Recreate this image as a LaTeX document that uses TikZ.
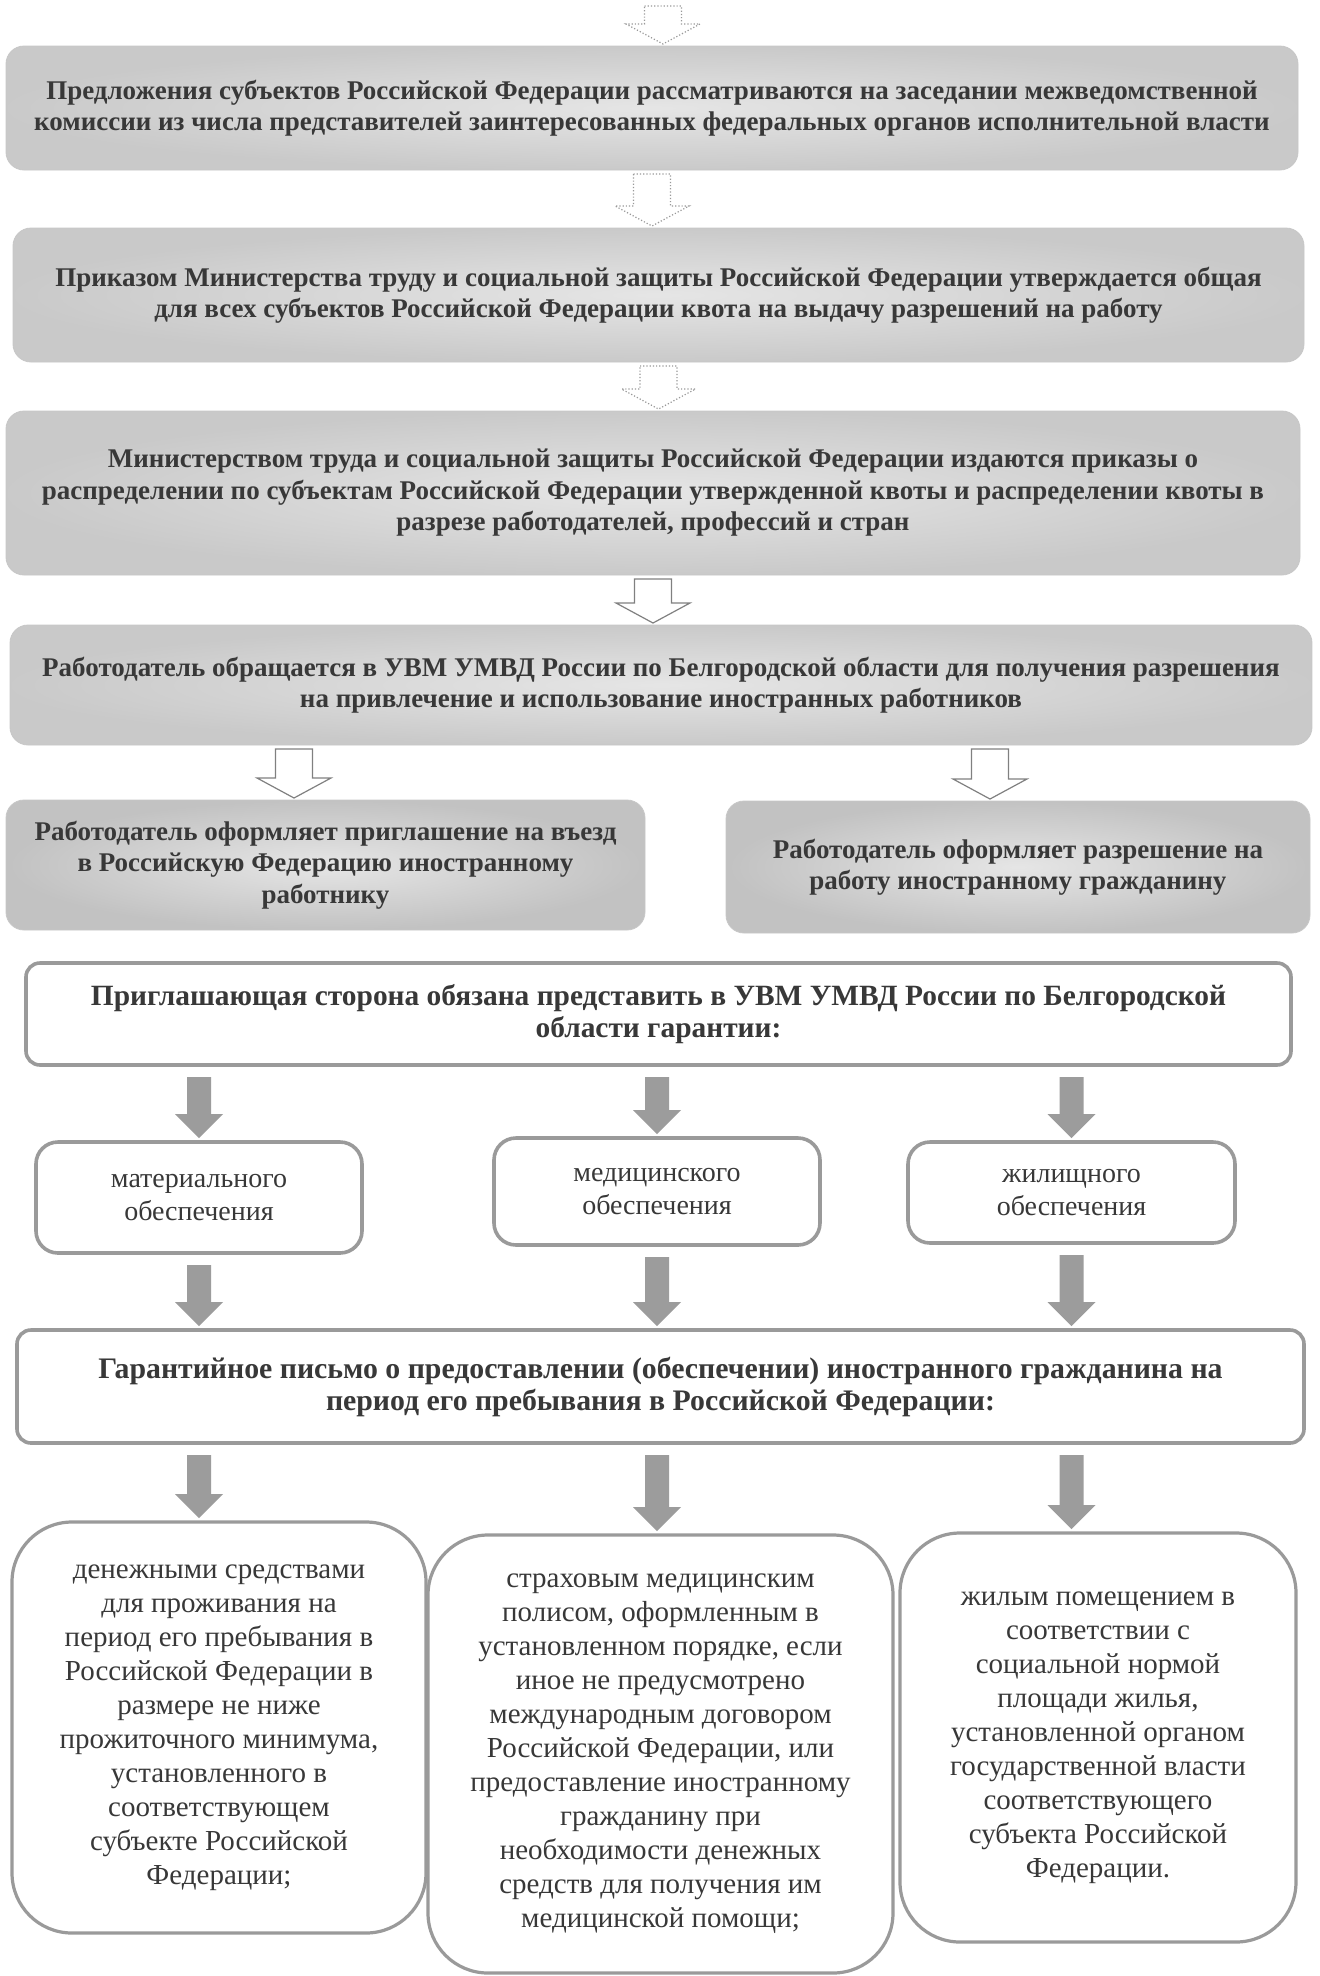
\documentclass[tikz,border=0pt]{standalone}
\usepackage{fontspec}
\setmainfont{Liberation Serif}
\usetikzlibrary{calc}
\definecolor{txt}{HTML}{383838}
\definecolor{edge}{HTML}{9A9A9A}
\definecolor{fatgray}{HTML}{9C9C9C}
\begin{document}
\begin{tikzpicture}[x=0.5pt,y=-0.5pt,
  every node/.style={inner sep=0pt, outer sep=0pt, text=txt, align=center},
  arrsw/.store in=\arrSW, arrhw/.store in=\arrHW, arrhl/.store in=\arrHL,
  arrgs/.store in=\arrGS, arrge/.store in=\arrGE,
  blockarrow/.style={to path={let \p1=(\tikztostart), \p2=(\tikztotarget) in
     (\x1-\arrSW,\y1-\arrGS) -- (\x1+\arrSW,\y1-\arrGS) -- (\x1+\arrSW,\y2+\arrGE+\arrHL)
     -- (\x1+\arrHW,\y2+\arrGE+\arrHL) -- (\x1,\y2+\arrGE) -- (\x1-\arrHW,\y2+\arrGE+\arrHL)
     -- (\x1-\arrSW,\y2+\arrGE+\arrHL) -- cycle}},
  hollow/.style={blockarrow, draw=black!50, fill=white, line width=0.6pt,
     arrsw=9.25pt, arrhw=18.5pt, arrhl=10pt, arrgs=2pt, arrge=1pt},
  fat/.style={blockarrow, fill=fatgray, draw=none,
     arrsw=6pt, arrhw=12pt, arrhl=12pt, arrgs=6pt, arrge=2pt},
  graybox/.style={rounded corners=9pt, draw=black!22, line width=0.4pt,
     inner color=black!10, outer color=black!21,
     font=\bfseries\fontsize{13.5}{15.75}\selectfont},
  whitebox/.style={rounded corners=7pt, draw=edge, line width=1.8pt, fill=white,
     font=\bfseries\fontsize{14.7}{16}\selectfont},
  smallbox/.style={rounded corners=11pt, draw=edge, line width=1.8pt, fill=white,
     font=\fontsize{14}{16.5}\selectfont},
  bigbox/.style={rounded corners=30pt, draw=edge, line width=1.6pt, fill=white,
     font=\fontsize{14.5}{17}\selectfont}
]
\useasboundingbox[fill=white] (0,0) rectangle (1319,1976);

\node[graybox, minimum width=646pt, minimum height=62pt] (b1) at (652,108)
 {Предложения субъектов Российской Федерации рассматриваются на заседании межведомственной\\
  комиссии из числа представителей заинтересованных федеральных органов исполнительной власти};
\node[graybox, minimum width=645.5pt, minimum height=67pt] (b2) at (658.5,295)
 {Приказом Министерства труду и социальной защиты Российской Федерации утверждается общая\\
  для всех субъектов Российской Федерации квота на выдачу разрешений на работу};
\node[graybox, minimum width=647pt, minimum height=82pt] (b3) at (653,493)
 {Министерством труда и социальной защиты Российской Федерации издаются приказы о\\
  распределении по субъектам Российской Федерации утвержденной квоты и распределении квоты в\\
  разрезе работодателей, профессий и стран};
\node[graybox, minimum width=651pt, minimum height=60pt] (b4) at (661,685)
 {Работодатель обращается в УВМ УМВД России по Белгородской области для получения разрешения\\
  на привлечение и использование иностранных работников};
\node[graybox, minimum width=319.5pt, minimum height=65pt, outer color=black!24] (b5a) at (325.5,865)
 {Работодатель оформляет приглашение на въезд\\
  в Российскую Федерацию иностранному\\работнику};
\node[graybox, minimum width=292pt, minimum height=66pt, outer color=black!24] (b5b) at (1018,867)
 {Работодатель оформляет разрешение на\\работу иностранному гражданину};

\node[whitebox, minimum width=632.5pt, minimum height=51pt] (b6) at (658.5,1014)
 {Приглашающая сторона обязана представить в УВМ УМВД России по Белгородской\\
  области гарантии:};
\node[smallbox, minimum width=163pt, minimum height=55.5pt] (s1) at (199,1197.5)
 {материального\\обеспечения};
\node[smallbox, minimum width=163pt, minimum height=53.5pt] (s2) at (657,1191.5)
 {медицинского\\обеспечения};
\node[smallbox, minimum width=163.5pt, minimum height=50.5pt] (s3) at (1071.5,1192.5)
 {жилищного\\обеспечения};
\node[whitebox, minimum width=643.5pt, minimum height=56.5pt, font=\bfseries\fontsize{14.9}{16}\selectfont] (b7) at (660.5,1386.5)
 {Гарантийное письмо о предоставлении (обеспечении) иностранного гражданина на\\
  период его пребывания в Российской Федерации:};

\node[bigbox, minimum width=207pt, minimum height=205.5pt] (bb1) at (219,1727.5)
 {денежными средствами\\для проживания на\\период его пребывания в\\Российской Федерации в\\
  размере не ниже\\прожиточного минимума,\\установленного в\\соответствующем\\
  субъекте Российской\\Федерации;};
\node[bigbox, minimum width=232.5pt, minimum height=219pt] (bb2) at (660.5,1754)
 {страховым медицинским\\полисом, оформленным в\\установленном порядке, если\\
  иное не предусмотрено\\международным договором\\Российской Федерации, или\\
  предоставление иностранному\\гражданину при\\необходимости денежных\\
  средств для получения им\\медицинской помощи;};
\node[bigbox, minimum width=198pt, minimum height=204.5pt] (bb3) at (1098,1737.5)
 {жилым помещением в\\соответствии с\\социальной нормой\\площади жилья,\\
  установленной органом\\государственной власти\\соответствующего\\
  субъекта Российской\\Федерации.};

\coordinate (top) at (663,2);
\coordinate (xl) at (294,0);
\coordinate (xr) at (990,0);

\draw[hollow, densely dotted, draw=black!40] (top) to (b1.north);
\draw[hollow, densely dotted, draw=black!40] (b1.south) to (b2.north);
\draw[hollow, densely dotted, draw=black!40] (b2.south) to (b3.north);
\draw[hollow] (b3.south) to (b4.north);
\draw[hollow] (b4.south -| xl) to (b5a.north -| xl);
\draw[hollow] (b4.south -| xr) to (b5b.north -| xr);

\draw[fat] (b6.south -| s1.north) to (s1.north);
\draw[fat] (b6.south -| s2.north) to (s2.north);
\draw[fat] (b6.south -| s3.north) to (s3.north);
\draw[fat] (s1.south) to (b7.north -| s1.south);
\draw[fat] (s2.south) to (b7.north -| s2.south);
\draw[fat] (s3.south) to (b7.north -| s3.south);
\draw[fat] (b7.south -| s1.south) to (bb1.north -| s1.south);
\draw[fat] (b7.south -| s2.south) to (bb2.north -| s2.south);
\draw[fat] (b7.south -| s3.south) to (bb3.north -| s3.south);
\end{tikzpicture}
\end{document}
